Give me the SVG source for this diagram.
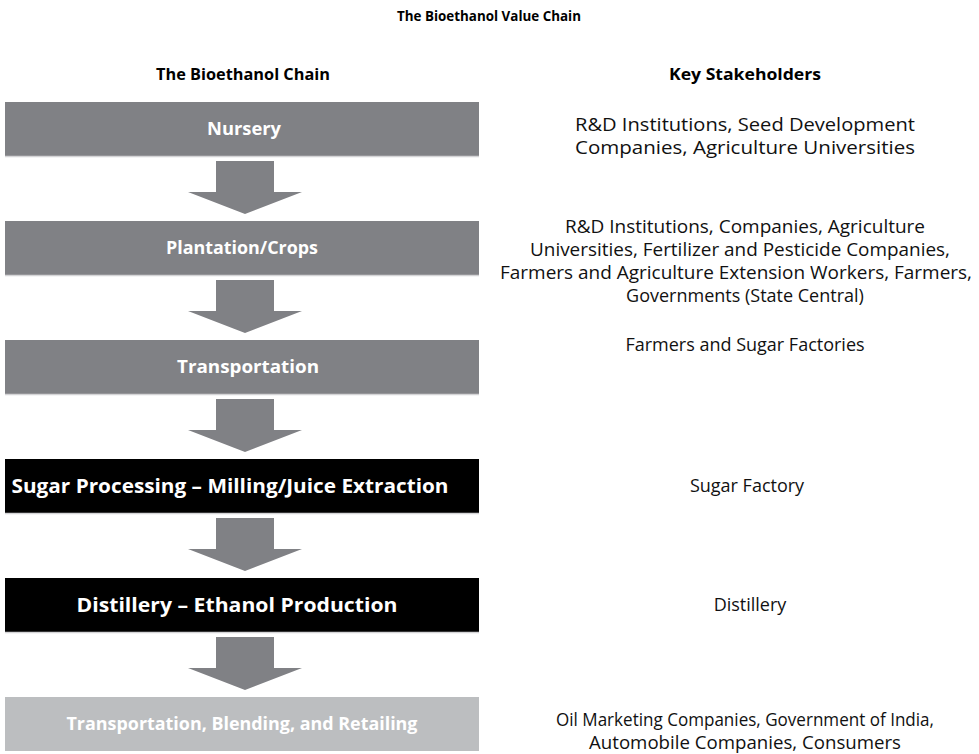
<svg xmlns="http://www.w3.org/2000/svg" width="979" height="754" viewBox="0 0 979 754">
<style>
.title{font-family:"Open Sans","Liberation Sans",sans-serif;font-weight:bold;font-size:15px;fill:#000;text-anchor:middle}
.head{font-family:"Open Sans","Liberation Sans",sans-serif;font-weight:bold;font-size:16px;fill:#000;text-anchor:middle}
.box{stroke:none}
.g{fill:#808185}
.k{fill:#000}
.l{fill:#bcbec0}
.edge{stroke:#d4d4d6;stroke-width:1.5}
.bt{font-family:"Open Sans","Liberation Sans",sans-serif;font-weight:bold;font-size:18px;fill:#fff;text-anchor:middle}
.bk{font-size:20px}
.st{font-family:"Open Sans","Liberation Sans",sans-serif;font-size:18px;fill:#111;text-anchor:middle}
.arrow{fill:#808185}
</style>
<rect width="979" height="754" fill="#fff"/>
<text class="title" x="489" y="21" textLength="184" lengthAdjust="spacingAndGlyphs">The Bioethanol Value Chain</text>
<text class="head" x="243" y="80" textLength="174" lengthAdjust="spacingAndGlyphs">The Bioethanol Chain</text>
<text class="head" x="745" y="80" textLength="152" lengthAdjust="spacingAndGlyphs">Key Stakeholders</text>

<g id="connectors">
<polygon class="arrow" points="216,161 274,161 274,192 302,192 245,214 188,192 216,192"/>
<polygon class="arrow" points="216,280 274,280 274,311 302,311 245,333 188,311 216,311"/>
<polygon class="arrow" points="216,399 274,399 274,430 302,430 245,452 188,430 216,430"/>
<polygon class="arrow" points="216,518 274,518 274,549 302,549 245,571 188,549 216,549"/>
<polygon class="arrow" points="216,637 274,637 274,668 302,668 245,690 188,668 216,668"/>
</g>

<g id="nursery">
<rect class="box g" x="5" y="102" width="474" height="54"/>
<line class="edge" x1="5" y1="156.5" x2="479" y2="156.5"/>
<text class="bt" x="244" y="135" textLength="74" lengthAdjust="spacingAndGlyphs">Nursery</text>
</g>
<g id="plantation">
<rect class="box g" x="5" y="221" width="474" height="54"/>
<line class="edge" x1="5" y1="275.5" x2="479" y2="275.5"/>
<text class="bt" x="242" y="254" textLength="152" lengthAdjust="spacingAndGlyphs">Plantation/Crops</text>
</g>
<g id="transportation">
<rect class="box g" x="5" y="340" width="474" height="54"/>
<line class="edge" x1="5" y1="394.5" x2="479" y2="394.5"/>
<text class="bt" x="248" y="373" textLength="142" lengthAdjust="spacingAndGlyphs">Transportation</text>
</g>
<g id="sugar">
<rect class="box k" x="5" y="459" width="474" height="54"/>
<line class="edge" x1="5" y1="513.5" x2="479" y2="513.5"/>
<text class="bt bk" x="230" y="493" textLength="437" lengthAdjust="spacingAndGlyphs">Sugar Processing – Milling/Juice Extraction</text>
</g>
<g id="distillery">
<rect class="box k" x="5" y="578" width="474" height="54"/>
<line class="edge" x1="5" y1="632.5" x2="479" y2="632.5"/>
<text class="bt bk" x="237" y="612" textLength="321" lengthAdjust="spacingAndGlyphs">Distillery – Ethanol Production</text>
</g>
<g id="retail">
<rect class="box l" x="5" y="697" width="474" height="54"/>
<text class="bt" x="242" y="730" textLength="351" lengthAdjust="spacingAndGlyphs">Transportation, Blending, and Retailing</text>
</g>

<g id="stakeholders">
<text class="st" x="745" y="131" textLength="340" lengthAdjust="spacingAndGlyphs">R&amp;D Institutions, Seed Development</text>
<text class="st" x="745" y="154" textLength="340" lengthAdjust="spacingAndGlyphs">Companies, Agriculture Universities</text>
<text class="st" x="745" y="233" textLength="360" lengthAdjust="spacingAndGlyphs">R&amp;D Institutions, Companies, Agriculture</text>
<text class="st" x="740" y="256" textLength="420" lengthAdjust="spacingAndGlyphs">Universities, Fertilizer and Pesticide Companies,</text>
<text class="st" x="736" y="279" textLength="472" lengthAdjust="spacingAndGlyphs">Farmers and Agriculture Extension Workers, Farmers,</text>
<text class="st" x="745" y="302">Governments (State Central)</text>
<text class="st" x="745" y="351">Farmers and Sugar Factories</text>
<text class="st" x="747" y="492">Sugar Factory</text>
<text class="st" x="750" y="611">Distillery</text>
<text class="st" x="745" y="726" textLength="378" lengthAdjust="spacingAndGlyphs">Oil Marketing Companies, Government of India,</text>
<text class="st" x="745" y="749" textLength="312" lengthAdjust="spacingAndGlyphs">Automobile Companies, Consumers</text>
</g>
</svg>
